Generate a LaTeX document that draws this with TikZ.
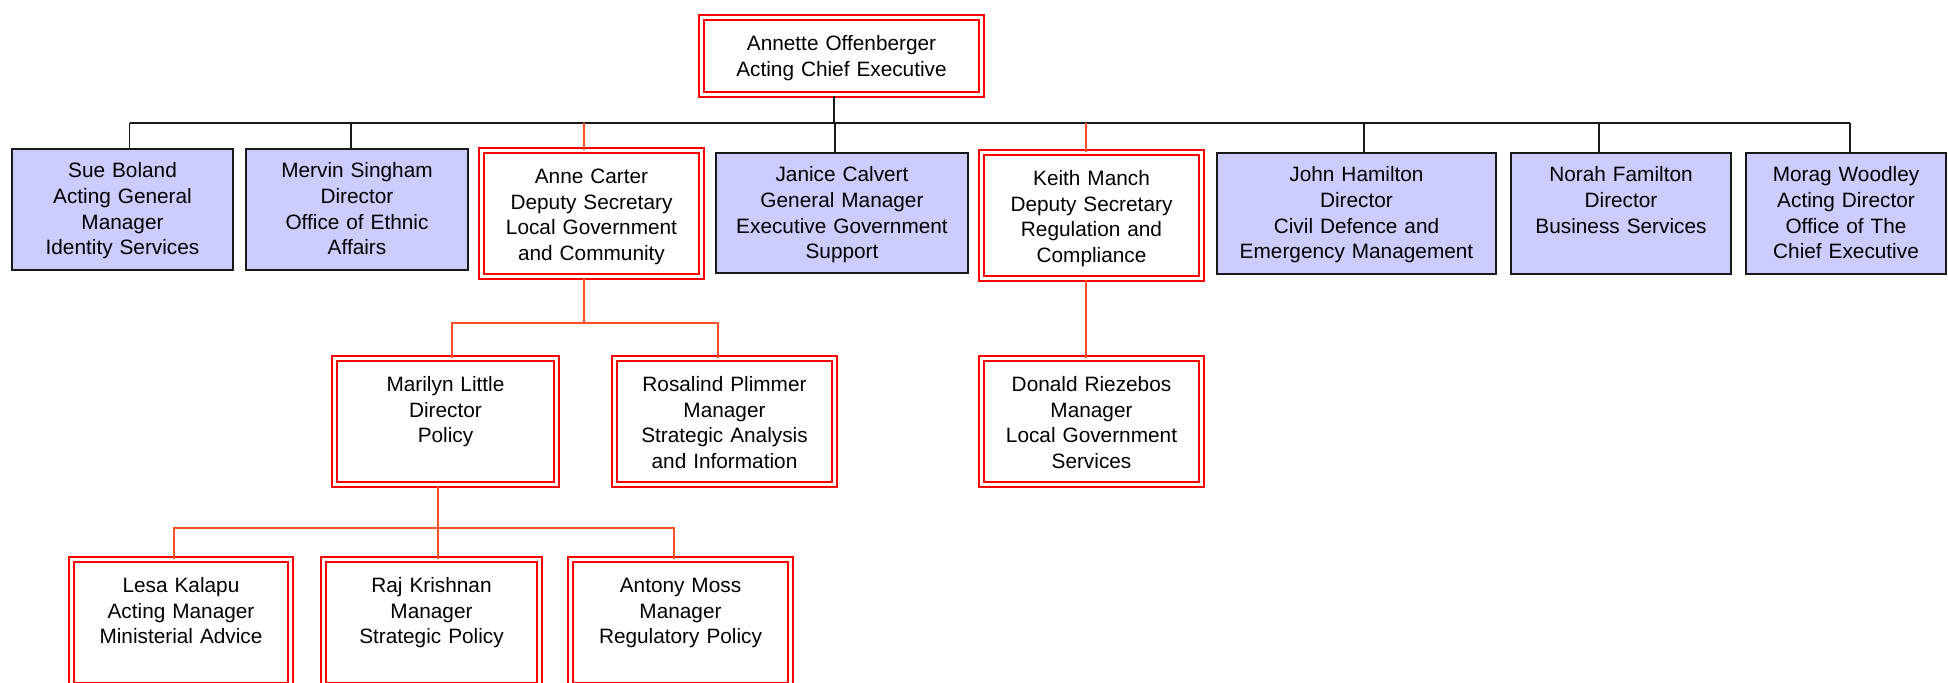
\documentclass[tikz,border=0pt]{standalone}
\usepackage{fontspec}
\setmainfont{Liberation Sans}
\usetikzlibrary{positioning}
\definecolor{unitblue}{RGB}{204,204,255}
\definecolor{linkred}{RGB}{255,80,40}

\tikzset{
  unit/.style={rectangle, draw=black!90, fill=unitblue, line width=0.9pt, inner xsep=2pt, inner ysep=0pt, align=center, anchor=north, text height=14.5pt, text depth=46pt},
  lead/.style={rectangle, draw=red, double=white, double distance=1.4pt, line width=1.1pt, inner xsep=2pt, inner ysep=0pt, align=center, anchor=north, text height=16.5pt, text depth=46.5pt},
  tie/.style={draw=black!90, line width=0.8pt},
  redtie/.style={draw=linkred, line width=0.6pt}
}

\begin{document}
\begin{tikzpicture}[x=0.5pt, y=-0.5pt, font=\fontsize{10.4}{12.8}\selectfont]
%

%help grid
%\draw[help lines] (0,0) grid[step=100] (1948,682);

\clip (0,0) rectangle (1948,682);

%%% CHIEF EXECUTIVE
\node [lead, text width=136pt, text depth=22pt] (ace) at (841.5,16.5) {Annette Offenberger\\Acting Chief Executive};

%%% FIRST ROW
\node [unit, text width=106.5pt] (sue) at (122.5,148) {Sue Boland\\Acting General\\Manager\\Identity Services};
\node [unit, text width=107pt] (mervin) at (357,148) {Mervin Singham\\Director\\Office of Ethnic\\Affairs};
\node [lead, text width=106pt] (anne) at (591.5,149.5) {Anne Carter\\Deputy Secretary\\Local Government\\and Community};
\node [unit, text width=122pt, text depth=45.5pt] (janice) at (842,152) {Janice Calvert\\General Manager\\Executive Government\\Support};
\node [lead, text width=106pt] (keith) at (1091.5,151.5) {Keith Manch\\Deputy Secretary\\Regulation and\\Compliance};
\node [unit, text width=135.5pt] (john) at (1356.5,152) {John Hamilton\\Director\\Civil Defence and\\Emergency Management};
\node [unit, text width=106pt] (norah) at (1621,152) {Norah Familton\\Director\\Business Services};
\node [unit, text width=96pt] (morag) at (1846,152) {Morag Woodley\\Acting Director\\Office of The\\Chief Executive};

%%% SECOND ROW
\node [lead, text width=107pt] (marilyn) at (445.5,357.5) {Marilyn Little\\Director\\Policy};
\node [lead, text width=106pt] (rosalind) at (724.5,357.5) {Rosalind Plimmer\\Manager\\Strategic Analysis\\and Information};
\node [lead, text width=106pt] (donald) at (1091.5,357.5) {Donald Riezebos\\Manager\\Local Government\\Services};

%%% THIRD ROW
\node [lead, text width=105.5pt] (lesa) at (181,558.5) {Lesa Kalapu\\Acting Manager\\Ministerial Advice};
\node [lead, text width=104pt] (raj) at (431.5,558.5) {Raj Krishnan\\Manager\\Strategic Policy};
\node [lead, text width=106pt] (antony) at (680.5,558.5) {Antony Moss\\Manager\\Regulatory Policy};

%%% connections
\coordinate (top bus) at (834,123);
\coordinate (lg bus) at (584,323);
\coordinate (pol bus) at (438,528);

\draw [tie] (ace.south -| top bus) -- (top bus);
\draw [tie] ([xshift=3.5pt]sue.north |- top bus) -- ([xshift=2pt]morag.north |- top bus);
\draw [tie] ([xshift=3.5pt]sue.north) -- ([xshift=3.5pt]sue.north |- top bus);
\draw [tie] ([xshift=-3pt]mervin.north) -- ([xshift=-3pt]mervin.north |- top bus);
\draw [tie] ([xshift=-3.5pt]janice.north) -- ([xshift=-3.5pt]janice.north |- top bus);
\draw [tie] ([xshift=3.75pt]john.north) -- ([xshift=3.75pt]john.north |- top bus);
\draw [tie] ([xshift=-11pt]norah.north) -- ([xshift=-11pt]norah.north |- top bus);
\draw [tie] ([xshift=2pt]morag.north) -- ([xshift=2pt]morag.north |- top bus);
\draw [redtie] ([xshift=-3.75pt]anne.north) -- ([xshift=-3.75pt]anne.north |- top bus);
\draw [redtie] ([xshift=-2.75pt]keith.north) -- ([xshift=-2.75pt]keith.north |- top bus);

\draw [redtie] (anne.south -| lg bus) -- (lg bus);
\draw [redtie] ([xshift=3.25pt]marilyn.north) |- (lg bus) -| ([xshift=-3.25pt]rosalind.north);
\draw [redtie] ([xshift=-2.75pt]keith.south) -- ([xshift=-2.75pt]donald.north);

\draw [redtie] (marilyn.south -| pol bus) -- (pol bus);
\draw [redtie] ([xshift=-3.5pt]lesa.north) |- (pol bus) -| ([xshift=-3.25pt]antony.north);
\draw [redtie] (raj.north -| pol bus) -- (pol bus);

\end{tikzpicture}
\end{document}
